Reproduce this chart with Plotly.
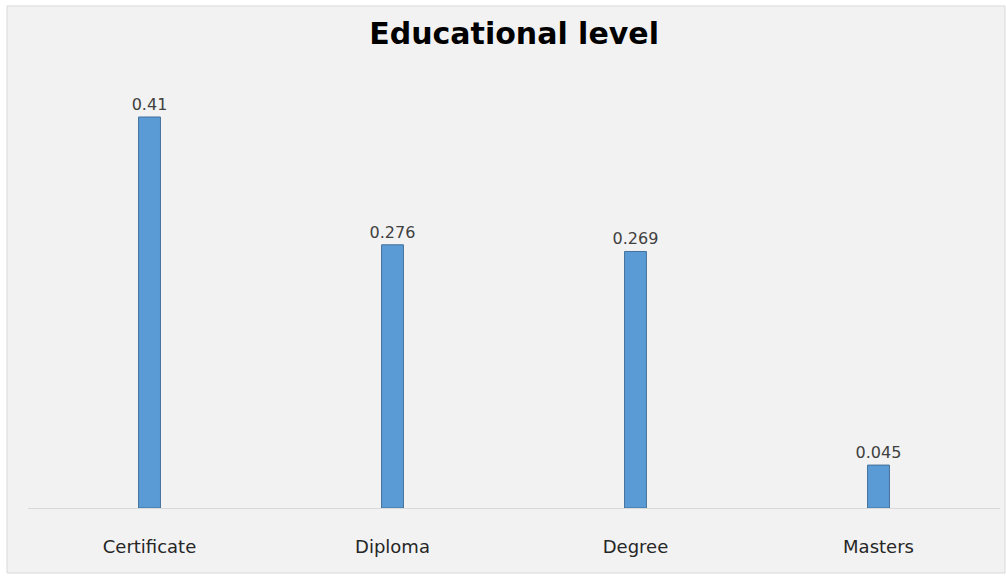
import plotly.graph_objects as go

categories = ["Certificate", "Diploma", "Degree", "Masters"]
values = [0.41, 0.276, 0.269, 0.045]
value_labels = ["0.41", "0.276", "0.269", "0.045"]

W, H = 1006, 578
L, R, T, B = 28, 6, 60, 70
pw, ph = W - L - R, H - T - B

fig = go.Figure(go.Bar(
    x=categories, y=values, text=value_labels,
    textposition="outside", cliponaxis=False, constraintext="none",
    textfont=dict(family="DejaVu Sans", size=16, color="#404040"),
    marker=dict(color="#5b9bd5", line=dict(color="#41719c", width=1)),
))

fig.add_shape(type="rect", xref="paper", yref="paper",
              x0=(7 - L) / pw, x1=(1005 - L) / pw,
              y0=(H - B - 573) / ph, y1=(H - B - 6) / ph,
              fillcolor="#f2f2f2", line=dict(color="#d9d9d9", width=1),
              layer="below")

fig.update_layout(
    width=W, height=H,
    margin=dict(l=L, r=R, t=T, b=B),
    paper_bgcolor="white", plot_bgcolor="rgba(0,0,0,0)",
    bargap=0.91, showlegend=False,
    title=dict(text="<b>Educational level</b>", x=0.511, xanchor="center",
               y=1 - 33 / H, yanchor="middle",
               font=dict(family="DejaVu Sans", size=30, color="#000000")),
    xaxis=dict(showline=True, linecolor="#d9d9d9", linewidth=1,
               ticks="", showgrid=False, ticklabelstandoff=22,
               tickfont=dict(family="DejaVu Sans", size=18, color="#262626")),
    yaxis=dict(range=[0, 0.41 * ph / 391], visible=False, showgrid=False),
)

fig.write_html("out.html")
